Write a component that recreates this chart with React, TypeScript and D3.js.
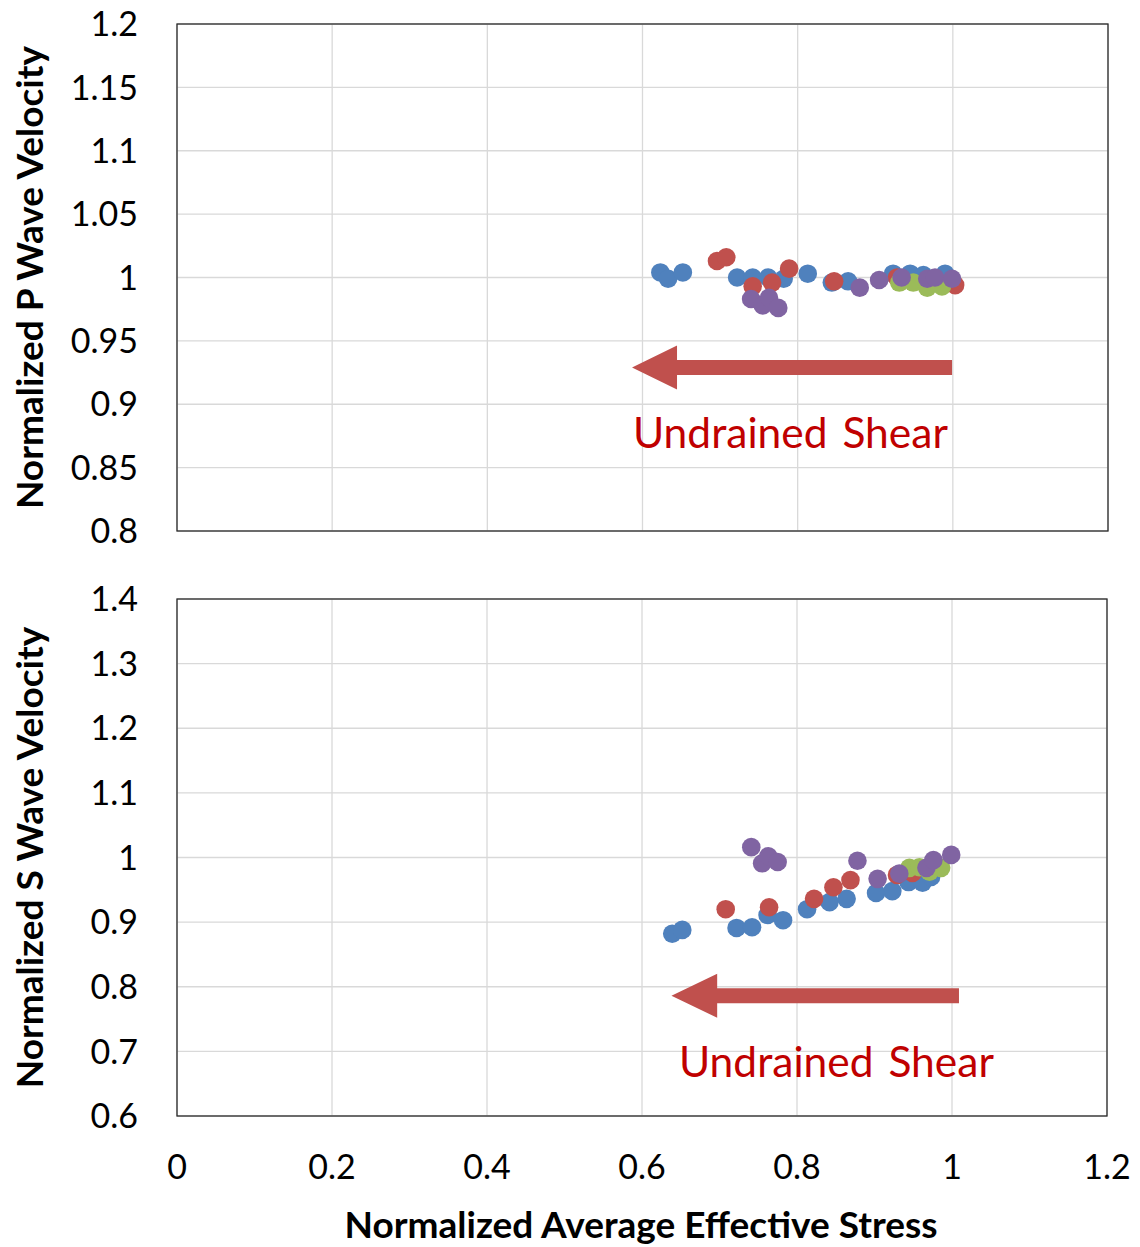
import React from "react";
import * as d3 from "d3";

// x: normalized average effective stress, y: normalized velocity
const X_TICKS = [0, 0.2, 0.4, 0.6, 0.8, 1, 1.2];
const P_TICKS = [0.8, 0.85, 0.9, 0.95, 1, 1.05, 1.1, 1.15, 1.2];
const S_TICKS = [0.6, 0.7, 0.8, 0.9, 1, 1.1, 1.2, 1.3, 1.4];

const P_BLUE = [
  [0.623, 1.004], [0.633, 0.999], [0.652, 1.004], [0.722, 1.0], [0.742, 1.0],
  [0.762, 1.0], [0.782, 0.999], [0.813, 1.003], [0.844, 0.996], [0.865, 0.997],
  [0.923, 1.003], [0.945, 1.003], [0.962, 1.002], [0.99, 1.003],
];
const P_RED = [
  [0.696, 1.013], [0.708, 1.016], [0.742, 0.993], [0.767, 0.996], [0.789, 1.007],
  [0.847, 0.997], [0.928, 1.0], [1.003, 0.994],
];
const P_GREEN = [
  [0.931, 0.996], [0.949, 0.996], [0.967, 0.992], [0.977, 0.996], [0.986, 0.993],
];
const P_PURPLE = [
  [0.74, 0.983], [0.755, 0.978], [0.763, 0.984], [0.775, 0.976], [0.88, 0.992],
  [0.905, 0.998], [0.934, 1.0], [0.967, 0.999], [0.977, 1.0], [0.999, 0.999],
];

const S_BLUE = [
  [0.639, 0.882], [0.652, 0.888], [0.722, 0.891], [0.742, 0.892], [0.762, 0.911],
  [0.782, 0.903], [0.813, 0.92], [0.842, 0.931], [0.864, 0.936], [0.902, 0.945],
  [0.923, 0.948], [0.944, 0.962], [0.962, 0.961], [0.973, 0.97],
];
const S_RED = [
  [0.708, 0.92], [0.764, 0.923], [0.822, 0.936], [0.847, 0.954], [0.869, 0.965],
  [0.929, 0.973], [0.949, 0.976],
];
const S_GREEN = [
  [0.945, 0.984], [0.958, 0.985], [0.971, 0.978], [0.986, 0.984],
];
const S_PURPLE = [
  [0.741, 1.016], [0.755, 0.991], [0.763, 1.002], [0.775, 0.993], [0.878, 0.995],
  [0.904, 0.967], [0.932, 0.975], [0.967, 0.984], [0.976, 0.996], [0.999, 1.004],
];

// arrow: [tail x, head base x, tip x, y]
const P_ARROW = [0.999, 0.6445, 0.5865, 0.929];
const S_ARROW = [1.009, 0.697, 0.638, 0.786];

const COLORS = ["#4F81BD", "#C0504D", "#9BBB59", "#8064A2"];
const FONT = "Lato, 'Open Sans', sans-serif";
const fmt = (v: number) => String(+v.toFixed(2));

function Panel({ top, bottom, left, right, yDomain, yTicks, series, arrow, label, title, showX }: any) {
  const x = d3.scaleLinear().domain([0, 1.2]).range([left, right]);
  const y = d3.scaleLinear().domain(yDomain).range([bottom, top]);
  const [tail, base, tip, ay] = arrow;
  const cy = y(ay);
  const arrowPts = [
    [x(tail), cy - 7.5], [x(base), cy - 7.5], [x(base), cy - 22], [x(tip), cy],
    [x(base), cy + 22], [x(base), cy + 7.5], [x(tail), cy + 7.5],
  ];
  return (
    <g>
      {X_TICKS.map((t) => (
        <line key={"gx" + t} x1={x(t)} x2={x(t)} y1={top} y2={bottom} stroke="#D9D9D9" strokeWidth={1.3} />
      ))}
      {yTicks.map((t: number) => (
        <line key={"gy" + t} x1={left} x2={right} y1={y(t)} y2={y(t)} stroke="#D9D9D9" strokeWidth={1.3} />
      ))}
      <rect x={left} y={top} width={right - left} height={bottom - top} fill="none" stroke="#2b2b2b" strokeWidth={1.3} />
      {yTicks.map((t: number) => (
        <text key={"ty" + t} x={138} y={y(t)} dy="0.36em" textAnchor="end" fontSize={34} fill="#000" fontFamily={FONT}>
          {fmt(t)}
        </text>
      ))}
      {showX &&
        X_TICKS.map((t) => (
          <text key={"tx" + t} x={x(t)} y={1167} dy="0.36em" textAnchor="middle" fontSize={34} fill="#000" fontFamily={FONT}>
            {fmt(t)}
          </text>
        ))}
      <text
        transform={`translate(30,${(top + bottom) / 2}) rotate(-90)`}
        textAnchor="middle"
        dy="0.36em"
        fontSize={37}
        fontWeight="bold"
        fontFamily={FONT}
        fill="#000"
      >
        {title}
      </text>
      {series.map((pts: number[][], i: number) => (
        <g key={"s" + i}>
          {pts.map((p, j) => (
            <circle key={j} cx={x(p[0])} cy={y(p[1])} r={9.3} fill={COLORS[i]} />
          ))}
        </g>
      ))}
      <polygon points={arrowPts.map((p) => p.join(",")).join(" ")} fill="#C0504D" />
      <text x={label[0]} y={label[1]} fontSize={42.5} fill="#C00000" fontFamily={FONT} wordSpacing={4}>
        Undrained Shear
      </text>
    </g>
  );
}

export default function App() {
  return (
    <svg width={1140} height={1247} style={{ position: "absolute", left: 0, top: 0, background: "#fff" }}>
      <rect width={1140} height={1247} fill="#fff" />
      <Panel
        top={24} bottom={531} left={177} right={1108}
        yDomain={[0.8, 1.2]} yTicks={P_TICKS}
        series={[P_BLUE, P_RED, P_GREEN, P_PURPLE]}
        arrow={P_ARROW} label={[633, 448]}
        title="Normalized P Wave Velocity" showX={false}
      />
      <Panel
        top={599} bottom={1116} left={177} right={1107}
        yDomain={[0.6, 1.4]} yTicks={S_TICKS}
        series={[S_BLUE, S_RED, S_GREEN, S_PURPLE]}
        arrow={S_ARROW} label={[679, 1077]}
        title="Normalized S Wave Velocity" showX={true}
      />
      <text x={641} y={1225} dy="0.36em" textAnchor="middle" fontSize={37} fontWeight="bold" fontFamily={FONT} fill="#000">
        Normalized Average Effective Stress
      </text>
    </svg>
  );
}
